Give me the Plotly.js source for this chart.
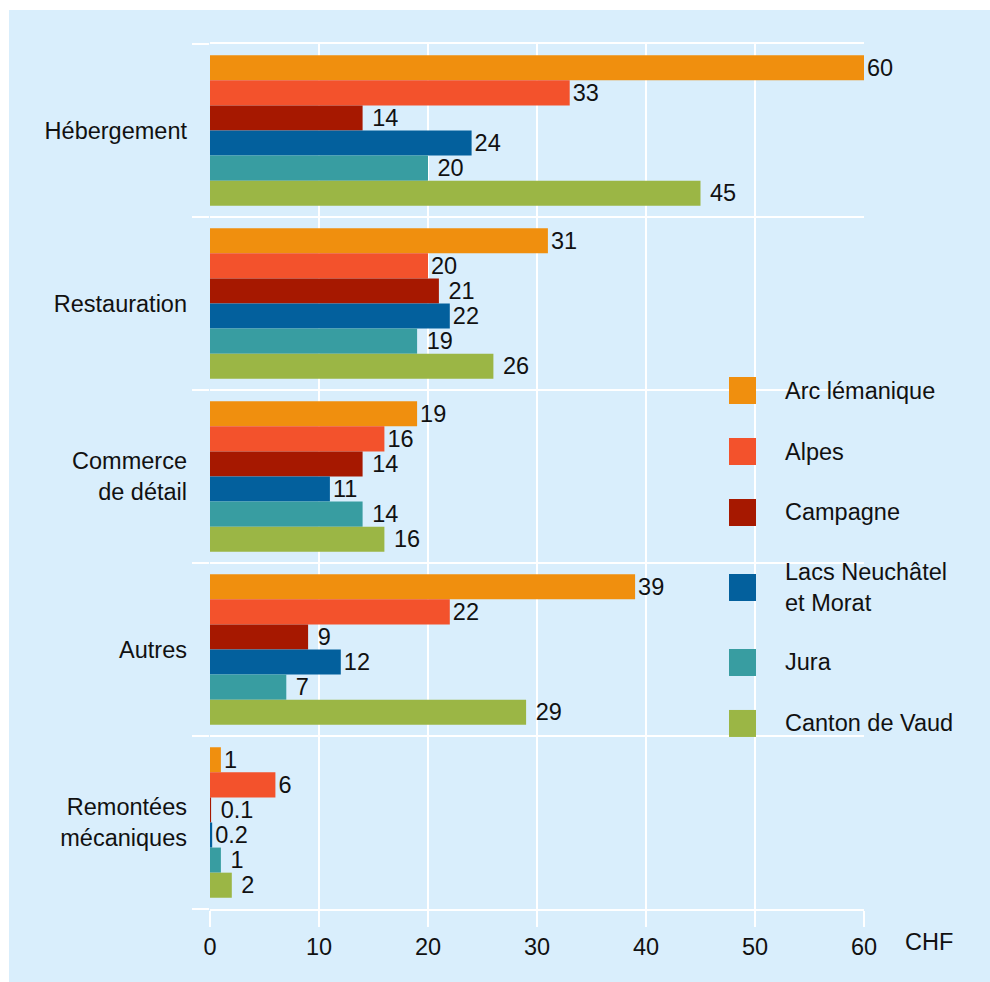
<!DOCTYPE html>
<html>
<head>
<meta charset="utf-8">
<script src="https://cdn.plot.ly/plotly-3.0.1.min.js"></script>
<style>
html,body{margin:0;padding:0;background:#ffffff;}
#chart{position:absolute;left:9px;top:10px;width:981px;height:972px;}
</style>
</head>
<body>
<div id="chart"></div>
<script>
// ---- data ----
var categories = ["Hébergement", "Restauration", "Commerce de détail", "Autres", "Remontées mécaniques"];
var categoryLabels = ["Hébergement", "Restauration", "Commerce<br>de détail", "Autres", "Remontées<br>mécaniques"];
var seriesNames = ["Arc lémanique", "Alpes", "Campagne", "Lacs Neuchâtel et Morat", "Jura", "Canton de Vaud"];
var legendLabels = ["Arc lémanique", "Alpes", "Campagne", "Lacs Neuchâtel<br>et Morat", "Jura", "Canton de Vaud"];
var arcLemanique = [60, 31, 19, 39, 1];
var alpes        = [33, 20, 16, 22, 6];
var campagne     = [14, 21, 14, 9, 0.1];
var lacsNeuchatelMorat = [24, 22, 11, 12, 0.2];
var jura         = [20, 19, 14, 7, 1];
var cantonVaud   = [45, 26, 16, 29, 2];
var xTicks = [0, 10, 20, 30, 40, 50, 60];
var unitLabel = "CHF";

// ---- styles ----
var colors = ["#f08f0e", "#f3522c", "#a61800", "#03609d", "#389da1", "#9bb645"];
var labelPad = ["", "", "\u00a0", "", "\u00a0", "\u00a0"];
var bg = "#d9eefc";
var fontFamily = "Arial, Liberation Sans, sans-serif";
var fs = 23.5;
var seriesValues = [arcLemanique, alpes, campagne, lacsNeuchatelMorat, jura, cantonVaud];

var traces = seriesValues.map(function (vals, i) {
  return {
    type: "bar",
    orientation: "h",
    name: seriesNames[i],
    y: categories,
    x: vals,
    text: vals.map(function (v) { return labelPad[i] + String(v); }),
    textposition: "outside",
    constraintext: "none",
    cliponaxis: false,
    textfont: {family: fontFamily, size: fs, color: "#111111"},
    marker: {color: colors[i], line: {width: 0}},
    hoverinfo: "x+name"
  };
});

// custom legend (layout geometry)
var legendY = [0.5994, 0.5289, 0.4584, 0.3717, 0.2850, 0.2145];
var sqHalf = 13.5 / 865;
var shapes = [];
var annotations = [];
seriesNames.forEach(function (n, i) {
  shapes.push({
    type: "rect", xref: "paper", yref: "paper",
    x0: 0.7936, x1: 0.8349, y0: legendY[i] - sqHalf, y1: legendY[i] + sqHalf,
    fillcolor: colors[i], line: {width: 0}, layer: "above"
  });
  annotations.push({
    xref: "paper", yref: "paper", x: 0.8761, y: legendY[i],
    xanchor: "left", yanchor: "middle", align: "left",
    text: legendLabels[i], showarrow: false,
    font: {family: fontFamily, size: fs, color: "#111111"}
  });
});
annotations.push({
  xref: "paper", yref: "paper", x: 1.0596, y: -0.0382,
  xanchor: "left", yanchor: "middle",
  text: unitLabel, showarrow: false,
  font: {family: fontFamily, size: fs, color: "#111111"}
});

var layout = {
  width: 981, height: 972,
  margin: {l: 201, r: 126, t: 34, b: 73, pad: 0},
  paper_bgcolor: bg,
  plot_bgcolor: bg,
  font: {family: fontFamily, size: fs, color: "#111111"},
  showlegend: false,
  barmode: "group",
  bargap: 0.13,
  bargroupgap: 0,
  xaxis: {
    range: [0, 60],
    tickvals: xTicks,
    ticktext: xTicks.map(String),
    ticks: "outside", ticklen: 16, tickwidth: 2, tickcolor: "#ffffff",
    showgrid: true, gridcolor: "#ffffff", gridwidth: 2,
    zeroline: false,
    showline: true, mirror: true, linecolor: "#ffffff", linewidth: 2,
    tickfont: {family: fontFamily, size: fs, color: "#111111"}
  },
  yaxis: {
    type: "category",
    categoryorder: "array",
    categoryarray: categories,
    tickvals: categories,
    ticktext: categoryLabels,
    range: [4.5, -0.5],
    tickson: "boundaries",
    ticks: "outside", ticklen: 17, tickwidth: 2, tickcolor: "#ffffff",
    ticklabelstandoff: 22,
    showgrid: true, gridcolor: "#ffffff", gridwidth: 2,
    zeroline: false, showline: false,
    tickfont: {family: fontFamily, size: fs, color: "#111111"}
  },
  shapes: shapes,
  annotations: annotations
};

Plotly.newPlot("chart", traces, layout, {displayModeBar: false, staticPlot: true});
</script>
</body>
</html>
